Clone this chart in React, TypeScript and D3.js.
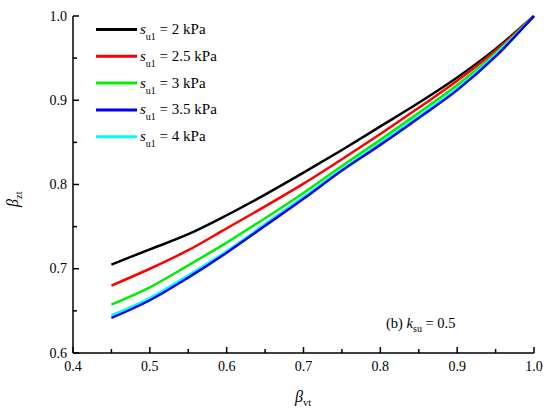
import React from "react";
import * as d3 from "d3";

// beta_vt values
const betaVt = [0.45, 0.5, 0.55, 0.6, 0.65, 0.7, 0.75, 0.8, 0.85, 0.9, 0.95, 1.0];

// beta_zt for each s_u1
const su2 = [0.705, 0.723, 0.741, 0.7635, 0.788, 0.814, 0.841, 0.869, 0.897, 0.927, 0.961, 1.0];
const su25 = [0.680, 0.700, 0.722, 0.748, 0.774, 0.801, 0.830, 0.860, 0.891, 0.923, 0.959, 1.0];
const su3 = [0.6575, 0.678, 0.704, 0.731, 0.760, 0.790, 0.822, 0.853, 0.885, 0.918, 0.956, 1.0];
const su35 = [0.6416, 0.6626, 0.6895, 0.719, 0.751, 0.783, 0.8165, 0.847, 0.879, 0.912, 0.952, 1.0];
const su4 = [0.6448, 0.6653, 0.6923, 0.721, 0.753, 0.785, 0.818, 0.849, 0.881, 0.914, 0.954, 1.0];

const seriesNames = ["2", "2.5", "3", "3.5", "4"];
const seriesColors = ["#000000", "#ff0000", "#00ee00", "#0000ee", "#00ffff"];
const seriesValues = [su2, su25, su3, su35, su4];
// draw order: cyan under blue like the original
const drawOrder = [0, 1, 2, 4, 3];

const xTicks = [0.4, 0.5, 0.6, 0.7, 0.8, 0.9, 1.0];
const yTicks = [0.6, 0.7, 0.8, 0.9, 1.0];
const xMinor = [0.45, 0.55, 0.65, 0.75, 0.85, 0.95];
const yMinor = [0.65, 0.75, 0.85, 0.95];

const W = 550;
const H = 418;
const margin = { top: 16, right: 16, bottom: 65, left: 73 };
const font = "'Liberation Serif', 'DejaVu Serif', serif";

export default function App() {
  const x = d3
    .scaleLinear()
    .domain([0.4, 1.0])
    .range([margin.left, W - margin.right]);
  const y = d3
    .scaleLinear()
    .domain([0.6, 1.0])
    .range([H - margin.bottom, margin.top]);

  const line = d3
    .line<number>()
    .x((d, i) => x(betaVt[i]))
    .y((d) => y(d))
    .curve(d3.curveMonotoneX);

  const x0 = x(0.4);
  const y0 = y(0.6);

  return (
    <svg
      width={W}
      height={H}
      style={{ position: "absolute", left: 0, top: 0, background: "#fff", fontFamily: font }}
    >
      {/* curves */}
      {drawOrder.map((k) => (
        <path
          key={k}
          d={line(seriesValues[k]) || ""}
          fill="none"
          stroke={seriesColors[k]}
          strokeWidth={2.5}
          strokeLinejoin="round"
        />
      ))}

      {/* axes */}
      <g stroke="#000" strokeWidth={1.5}>
        <line x1={x0} x2={x(1.0)} y1={y0} y2={y0} />
        <line x1={x0} x2={x0} y1={y0} y2={y(1.0)} />
        {xTicks.map((t) => (
          <line key={"xt" + t} x1={x(t)} x2={x(t)} y1={y0} y2={y0 - 6} />
        ))}
        {xMinor.map((t) => (
          <line key={"xm" + t} x1={x(t)} x2={x(t)} y1={y0} y2={y0 - 4} />
        ))}
        {yTicks.map((t) => (
          <line key={"yt" + t} x1={x0} x2={x0 + 6} y1={y(t)} y2={y(t)} />
        ))}
        {yMinor.map((t) => (
          <line key={"ym" + t} x1={x0} x2={x0 + 4} y1={y(t)} y2={y(t)} />
        ))}
      </g>

      {/* tick labels */}
      <g fontSize={14} fill="#000">
        {xTicks.map((t) => (
          <text key={"xl" + t} x={x(t)} y={y0 + 18} textAnchor="middle">
            {t.toFixed(1)}
          </text>
        ))}
        {yTicks.map((t) => (
          <text key={"yl" + t} x={x0 - 6} y={y(t) + 4.5} textAnchor="end">
            {t.toFixed(1)}
          </text>
        ))}
      </g>

      {/* axis titles */}
      <text x={295} y={402} fontSize={16} fontStyle="italic">
        β
        <tspan fontSize={10.5} fontStyle="normal" dy={4}>
          vt
        </tspan>
      </text>
      <text transform={`translate(18,207) rotate(-90)`} fontSize={16} fontStyle="italic">
        β
        <tspan fontSize={10.5} fontStyle="normal" dy={4}>
          zt
        </tspan>
      </text>

      {/* annotation */}
      <text x={386} y={328} fontSize={14.5}>
        (b){" "}
        <tspan fontStyle="italic">k</tspan>
        <tspan fontSize={10} dy={4}>
          su
        </tspan>
        <tspan dy={-4}> = 0.5</tspan>
      </text>

      {/* legend */}
      {seriesNames.map((name, i) => {
        const ly = 29.5 + i * 26.8;
        return (
          <g key={"lg" + i}>
            <line
              x1={96}
              x2={137}
              y1={ly}
              y2={ly}
              stroke={seriesColors[i]}
              strokeWidth={3}
            />
            <text x={140} y={ly + 4.5} fontSize={15}>
              <tspan fontStyle="italic">s</tspan>
              <tspan fontSize={10} dy={6}>
                u1
              </tspan>
              <tspan dy={-6}>{` = ${name} kPa`}</tspan>
            </text>
          </g>
        );
      })}
    </svg>
  );
}
